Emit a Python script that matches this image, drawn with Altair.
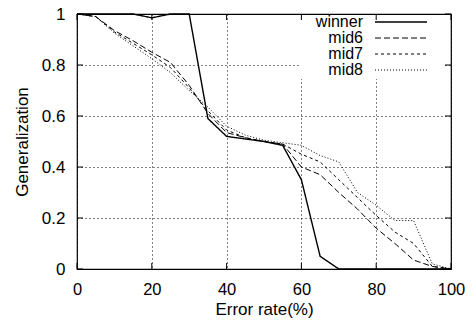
import altair as alt
import pandas as pd

error_rate = [0, 5, 10, 15, 20, 25, 30, 35, 40, 45, 50, 55, 60, 65, 70, 75, 80, 85, 90, 95, 100]
winner = [1, 1, 1, 1, 0.985, 1, 1, 0.59, 0.52, 0.51, 0.50, 0.485, 0.35, 0.05, 0, 0, 0, 0, 0, 0, 0]
mid6 = [1, 0.99, 0.935, 0.895, 0.85, 0.81, 0.72, 0.61, 0.535, 0.515, 0.50, 0.49, 0.40, 0.37, 0.30, 0.235, 0.16, 0.10, 0.035, 0.01, 0]
mid7 = [1, 0.99, 0.93, 0.885, 0.84, 0.79, 0.71, 0.62, 0.545, 0.515, 0.50, 0.49, 0.45, 0.42, 0.35, 0.28, 0.21, 0.145, 0.10, 0.01, 0]
mid8 = [1, 0.99, 0.925, 0.875, 0.825, 0.77, 0.70, 0.635, 0.56, 0.525, 0.505, 0.495, 0.485, 0.445, 0.42, 0.30, 0.25, 0.19, 0.19, 0.02, 0]

series_names = ["winner", "mid6", "mid7", "mid8"]
series_values = [winner, mid6, mid7, mid8]
dashes = [[1, 0], [6, 3], [3, 3], [1, 2]]
widths = [1.4, 1, 1, 1]

x_ticks = [0, 20, 40, 60, 80, 100]
y_ticks = [0, 0.2, 0.4, 0.6, 0.8, 1]

W, H = 374, 255
FONT = "Liberation Sans"
FS = 17

xscale = alt.Scale(domain=[0, 100], nice=False)
yscale = alt.Scale(domain=[0, 1], nice=False)

xaxis = alt.Axis(values=x_ticks, grid=True, gridDash=[1, 3], gridColor="black", gridOpacity=1,
                 domain=False, ticks=False, labelFont=FONT, labelFontSize=16.5, labelColor="black",
                 labelPadding=12, title="Error rate(%)", titleFont=FONT, titleFontSize=FS,
                 titleFontWeight="normal", titleColor="black", titlePadding=4, labelFlush=False)
yaxis = alt.Axis(values=y_ticks, grid=True, gridDash=[1, 3], gridColor="black", gridOpacity=1,
                 domain=False, ticks=False, labelFont=FONT, labelFontSize=FS, labelColor="black",
                 labelPadding=12, format="~g", title="Generalization", titleFont=FONT,
                 titleFontSize=FS, titleFontWeight="normal", titleColor="black", titlePadding=10,
                 labelFlush=False)


def X(field):
    return alt.X(field, scale=xscale, axis=xaxis)


def Y(field):
    return alt.Y(field, scale=yscale, axis=yaxis)


layers = []
base_df = pd.DataFrame({"x": error_rate, "y": winner})
layers.append(alt.Chart(base_df).mark_point(opacity=0).encode(x=X("x:Q"), y=Y("y:Q")))

# opaque key background
layers.append(
    alt.Chart(base_df).mark_rect(color="white").encode(
        x=alt.value(222), x2=alt.value(368), y=alt.value(1), y2=alt.value(65)
    )
)

for name, vals, dash, w in zip(series_names, series_values, dashes, widths):
    df = pd.DataFrame({"x": error_rate, "y": vals})
    layers.append(
        alt.Chart(df).mark_line(color="black", strokeWidth=w, strokeDash=dash).encode(
            x=X("x:Q"), y=Y("y:Q")
        )
    )

# inward ticks on all four sides
xt = pd.DataFrame({"x": x_ticks})
yt = pd.DataFrame({"y": y_ticks})
for y0, y1 in [(H, H - 6), (0, 6)]:
    layers.append(
        alt.Chart(xt).mark_rule(color="black", strokeWidth=1).encode(
            x=X("x:Q"), y=alt.value(y0), y2=alt.value(y1)
        )
    )
for x0, x1 in [(0, 6), (W, W - 6)]:
    layers.append(
        alt.Chart(yt).mark_rule(color="black", strokeWidth=1).encode(
            y=Y("y:Q"), x=alt.value(x0), x2=alt.value(x1)
        )
    )

# key
KFS = 16
row_y = [8, 24, 40, 56]
for name, dash, w, ry in zip(series_names, dashes, widths, row_y):
    kdf = pd.DataFrame({"label": [name]})
    layers.append(
        alt.Chart(kdf).mark_text(align="right", baseline="middle", font=FONT, fontSize=KFS,
                                 color="black").encode(
            text="label:N", x=alt.value(286), y=alt.value(ry)
        )
    )
    layers.append(
        alt.Chart(kdf).mark_rule(color="black", strokeWidth=w, strokeDash=dash).encode(
            x=alt.value(298), x2=alt.value(350), y=alt.value(ry)
        )
    )

chart = alt.layer(*layers).properties(
    width=W, height=H,
    autosize=alt.AutoSizeParams(type="none"),
    padding={"left": 69, "top": 6, "right": 14, "bottom": 52},
).configure_view(stroke="black", strokeWidth=1.2)

chart.save("out.html", embed_options={"renderer": "svg", "actions": False})
